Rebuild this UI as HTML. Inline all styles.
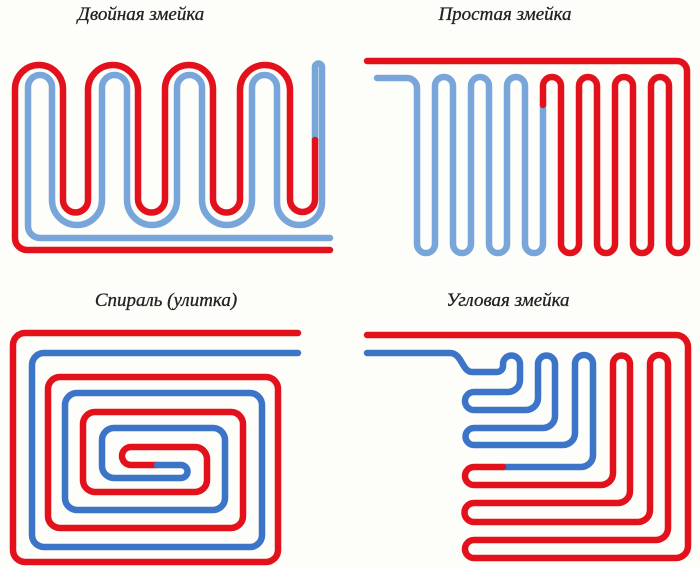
<!DOCTYPE html>
<html><head><meta charset="utf-8"><style>
html,body{margin:0;padding:0;background:#fdfdfa;}
svg{display:block}
text{font-family:"Liberation Serif",serif;font-style:italic;font-size:19px;fill:#222;stroke:#222;stroke-width:0.3}
.p{fill:none;stroke-width:6.5;stroke-linecap:round;stroke-linejoin:round}
.r{stroke:#e3111b}.lb{stroke:#78a6db}.b{stroke:#3c74c8}
</style></head><body>
<svg width="700" height="567" viewBox="0 0 700 567" xmlns="http://www.w3.org/2000/svg">
<rect width="700" height="567" fill="#fdfdfa"/>
<text x="141" y="20" text-anchor="middle">Двойная змейка</text>
<text x="505" y="20" text-anchor="middle">Простая змейка</text>
<text x="166" y="306" text-anchor="middle">Спираль (улитка)</text>
<text x="508" y="306" text-anchor="middle">Угловая змейка</text>

<!-- Panel 1 -->
<path class="p lb" d="M330 238 H40 A12 12 0 0 1 28 226 V87 A12 12 0 0 1 52 87 V200 A25 25 0 0 0 102 200 V87.5 A12.5 12.5 0 0 1 127 87.5 V200 A25 25 0 0 0 177 200 V87.5 A12.5 12.5 0 0 1 202 87.5 V200 A25 25 0 0 0 252 200 V87.5 A12.5 12.5 0 0 1 277 87.5 V202.5 A22.5 22.5 0 0 0 322 202.5 V67 A3.5 3.5 0 0 0 315 67 V140"/>
<path class="p r" d="M330 250 H27 A12 12 0 0 1 15 238 V89 A24 24 0 0 1 63 89 V200 A12.5 12.5 0 0 0 88 200 V90 A25 25 0 0 1 138 90 V199 A13.5 13.5 0 0 0 165 199 V89 A24 24 0 0 1 213 89 V199 A13.5 13.5 0 0 0 240 199 V90 A25 25 0 0 1 290 90 V199.5 A12.5 12.5 0 0 0 315 199.5 V140"/>

<!-- Panel 2 -->
<path class="p lb" d="M377 78 H407 A10 10 0 0 1 417 88 V244 A9 9 0 0 0 435 244 V86 A9 9 0 0 1 453 86 V244 A9 9 0 0 0 471 244 V86 A9 9 0 0 1 489 86 V244 A9 9 0 0 0 507 244 V86 A9 9 0 0 1 525 86 V244 A9 9 0 0 0 543 244 V105"/>
<path class="p r" d="M543 105 V86 A9 9 0 0 1 561 86 V244 A9 9 0 0 0 579 244 V86 A9 9 0 0 1 597 86 V244 A9 9 0 0 0 615 244 V86 A9 9 0 0 1 633 86 V244 A9 9 0 0 0 651 244 V86 A9 9 0 0 1 669 86 V244 A9 9 0 0 0 687 244 V71 A10 10 0 0 0 677 61 H367"/>

<!-- Panel 3 -->
<path class="p r" d="M298 333 H25 A12 12 0 0 0 13 345 V550 A12 12 0 0 0 25 562 H266 A12 12 0 0 0 278 550 V389 A12 12 0 0 0 266 377 H60 A12 12 0 0 0 48 389 V516 A12 12 0 0 0 60 528 H231 A12 12 0 0 0 243 516 V424 A12 12 0 0 0 231 412 H95 A12 12 0 0 0 83 424 V480 A12 12 0 0 0 95 492 H195 A12 12 0 0 0 207 480 V459 A12 12 0 0 0 195 447 H131 A9 9 0 0 0 131 465 H157"/>
<path class="p b" d="M298 353 H44 A12 12 0 0 0 32 365 V535 A12 12 0 0 0 44 547 H250 A12 12 0 0 0 262 535 V405 A12 12 0 0 0 250 393 H77 A12 12 0 0 0 65 405 V498 A12 12 0 0 0 77 510 H213 A12 12 0 0 0 225 498 V440 A12 12 0 0 0 213 428 H114 A12 12 0 0 0 102 440 V466 A12 12 0 0 0 114 478 H181 A6.5 6.5 0 0 0 181 465 H157"/>

<!-- Panel 4 -->
<path class="p b" d="M503 467 H581 A12 12 0 0 0 593 455 V364 A9 9 0 0 0 575 364 V433 A12 12 0 0 1 563 445 H474 A8.5 8.5 0 0 1 474 428 H543 A12 12 0 0 0 555 416 V364 A8.5 8.5 0 0 0 538 364 V398 A12 12 0 0 1 526 410 H474 A9 9 0 0 1 474 392 H508 A12 12 0 0 0 520 380 V364 A8.5 8.5 0 0 0 503 364 V366 A6 6 0 0 1 497 372 H472 C462 372 462 353 450 353 H367"/>
<path class="p r" d="M367 335 H676 A12 12 0 0 1 688 347 V546 A12 12 0 0 1 676 558 H474 A9 9 0 0 1 474 540 H656 A12 12 0 0 0 668 528 V364 A9 9 0 0 0 650 364 V510 A12 12 0 0 1 638 522 H474 A9.5 9.5 0 0 1 474 503 H618 A12 12 0 0 0 630 491 V364 A8.5 8.5 0 0 0 613 364 V473 A12 12 0 0 1 601 485 H474 A9 9 0 0 1 474 467 H503"/>
</svg>
</body></html>
